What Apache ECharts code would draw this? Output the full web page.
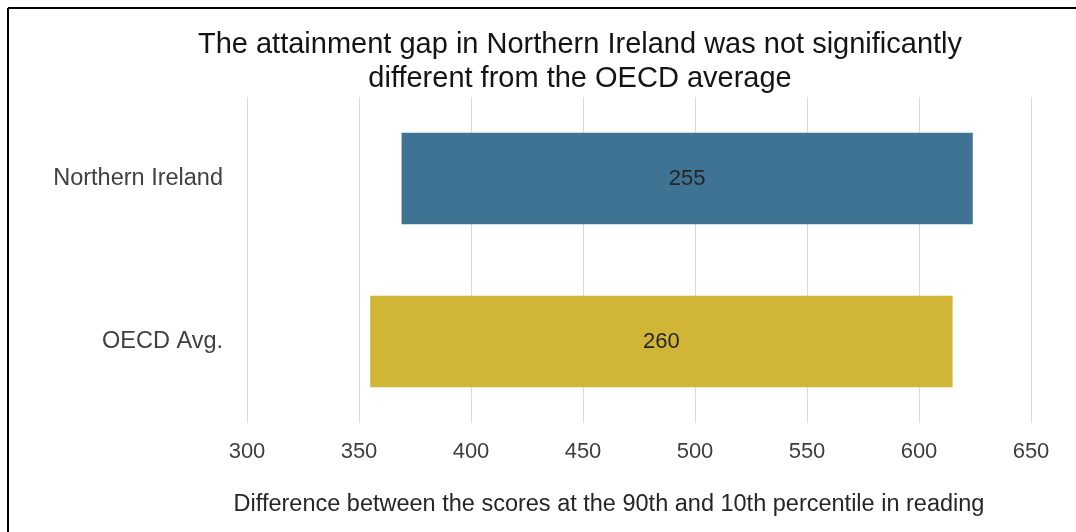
<!DOCTYPE html>
<html>
<head>
<meta charset="utf-8">
<script src="https://cdn.jsdelivr.net/npm/echarts@6/dist/echarts.min.js"></script>
<style>
  html, body { margin: 0; padding: 0; background: #fff; }
  #chart { width: 1076px; height: 532px; }
</style>
</head>
<body>
<div id="chart"></div>
<script>
// ---- data ----
var titleText = "The attainment gap in Northern Ireland was not significantly\ndifferent from the OECD average";
var categories = ["Northern Ireland", "OECD Avg."];
var percentile10 = [369, 355];   // bar start (10th percentile score)
var gapValues = [255, 260];      // bar length (90th - 10th)
var barColors = ["#3F7394", "#D0B536"];
var xTicks = { min: 300, max: 650, interval: 50 };
var xAxisName = "Difference between the scores at the 90th and 10th percentile in reading";

var chart = echarts.init(document.getElementById('chart'), null, { renderer: 'canvas' });
var font = "'Liberation Sans', Arial, sans-serif";

chart.setOption({
  animation: false,
  backgroundColor: '#ffffff',
  title: {
    text: titleText,
    left: 575,
    top: 23,
    textAlign: 'center',
    textStyle: { fontFamily: font, fontSize: 29, fontWeight: 'normal', color: '#141414', lineHeight: 34 }
  },
  grid: { left: 247, right: 45, top: 97, bottom: 109, containLabel: false },
  xAxis: {
    type: 'value',
    min: xTicks.min,
    max: xTicks.max,
    interval: xTicks.interval,
    axisLine: { show: false },
    axisTick: { show: false },
    splitLine: { show: true, lineStyle: { color: '#d9d9d9', width: 1 } },
    axisLabel: { fontFamily: font, fontSize: 22, color: '#404040', margin: 18 },
    name: xAxisName,
    nameLocation: 'middle',
    nameGap: 70,
    nameTextStyle: { fontFamily: font, fontSize: 23.5, color: '#262626', padding: [0, 60, 0, 0] }
  },
  yAxis: {
    type: 'category',
    data: categories,
    inverse: true,
    axisLine: { show: false },
    axisTick: { show: false },
    axisLabel: { fontFamily: font, fontSize: 23.5, color: '#404040', margin: 24 }
  },
  series: [
    {
      type: 'bar',
      stack: 'range',
      data: percentile10,
      itemStyle: { color: 'transparent' },
      barWidth: '56%',
      silent: true
    },
    {
      type: 'bar',
      stack: 'range',
      barWidth: '56%',
      data: gapValues.map(function (v, i) {
        return { value: v, itemStyle: { color: barColors[i] } };
      }),
      label: {
        show: true,
        position: 'inside',
        fontFamily: font,
        fontSize: 22,
        color: '#262626',
        formatter: function (p) { return p.value; }
      }
    }
  ],
  graphic: [
    { type: 'line', shape: { x1: 8, y1: 8, x2: 1076, y2: 8 }, style: { stroke: '#000', lineWidth: 2 } },
    { type: 'line', shape: { x1: 8, y1: 8, x2: 8, y2: 532 }, style: { stroke: '#000', lineWidth: 2 } }
  ]
});
</script>
</body>
</html>
